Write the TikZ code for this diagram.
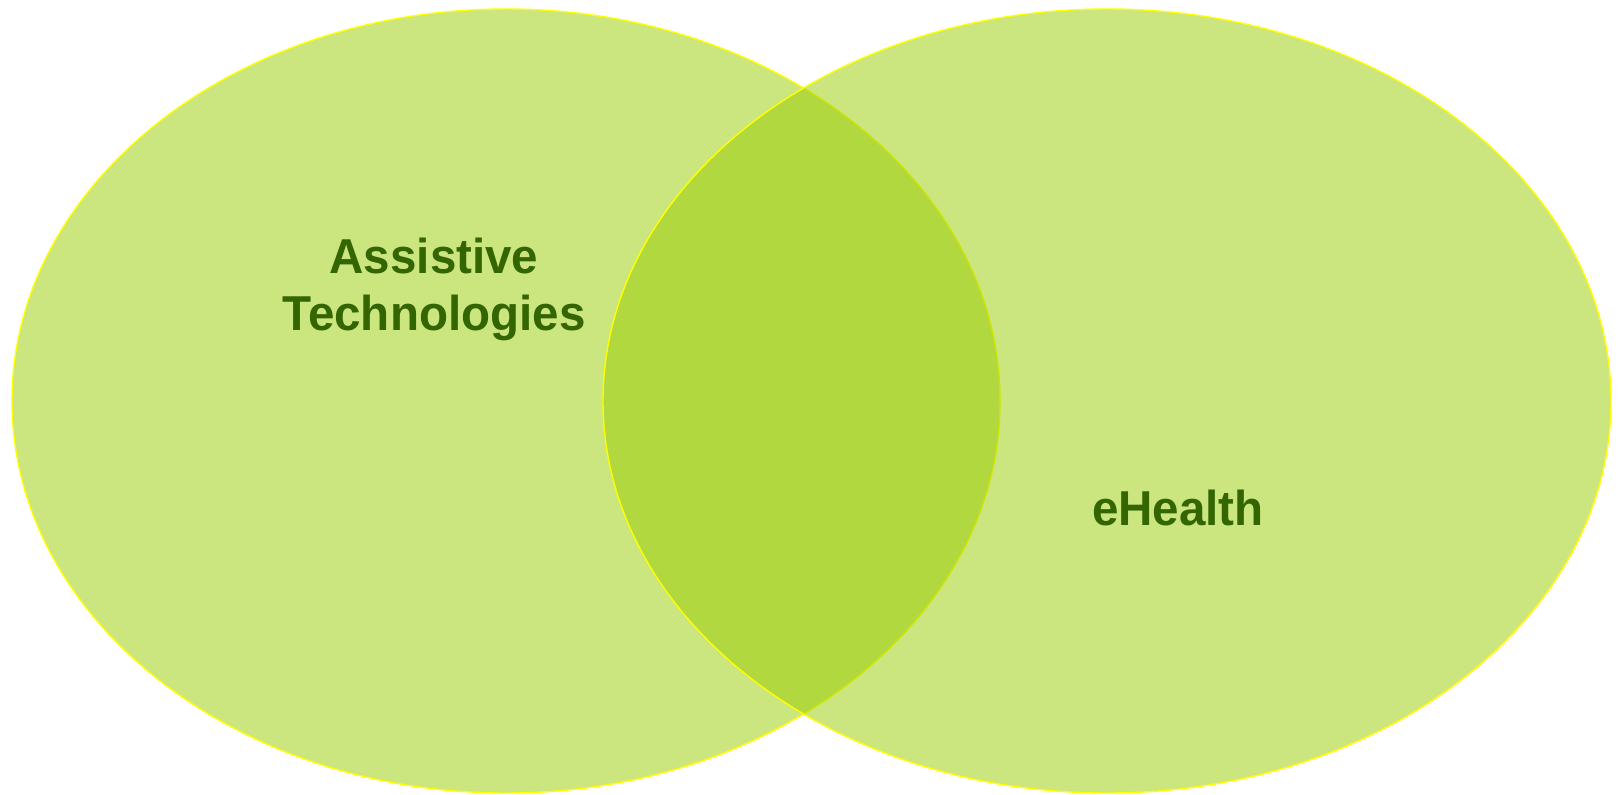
\documentclass[tikz,border=0pt]{standalone}
\usepackage{fontspec}
\setmainfont{Liberation Sans}[FakeStretch=0.97]
\definecolor{setgreen}{HTML}{99CC00}
\definecolor{edgeyellow}{HTML}{FFFF00}
\definecolor{labelgreen}{HTML}{336600}
\tikzset{
  setfill/.style={fill=setgreen, fill opacity=0.5, draw=edgeyellow, line width=0.7pt},
  setlabel/.style={text=labelgreen, font=\bfseries\fontsize{24.5}{28.5}\selectfont, align=center, inner sep=0pt}
}
\begin{document}
\begin{tikzpicture}[x=0.5pt, y=0.5pt]
                    % \helpgrid{3}{3}
    \useasboundingbox[fill=white] (0,0) rectangle (1619,794);

                    \draw[setfill] (506,393) ellipse [x radius=494, y radius=392];
                    \draw[setfill] (1107,393) ellipse [x radius=504, y radius=392];
                    \node[setlabel] (assist) at (434,505) {Assistive\\Technologies};
                    \node[setlabel, anchor=base] (ehealth) at (1178,269) {eHealth};

                \end{tikzpicture}
\end{document}
